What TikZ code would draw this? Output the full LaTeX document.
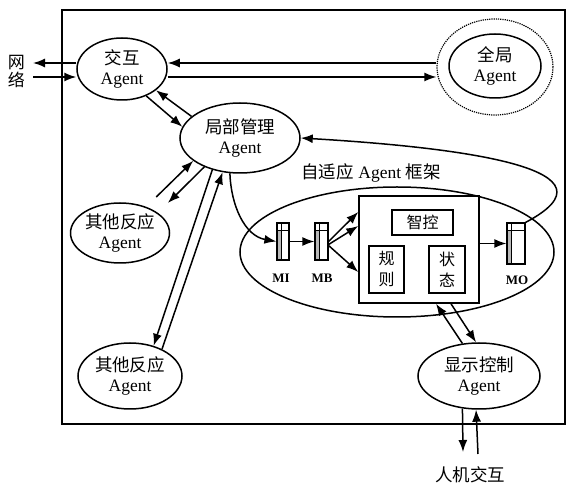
\documentclass[tikz,border=0pt]{standalone}
\usepackage{fontspec}
\setmainfont{Liberation Serif}
\newfontfamily\cjk{Noto Sans CJK SC}
\usetikzlibrary{arrows.meta, positioning, calc, shapes.geometric}
\newcommand{\agtext}[1]{{\cjk #1}\\Agent}

\begin{document}
\begin{tikzpicture}[x=1pt, y=-1pt, line width=1.5pt,
        agent/.style={ellipse, draw, align=center, inner sep=0pt, font=\fontsize{17.5}{20}\selectfont},
        arr/.style={-{Latex[length=12pt,width=9pt]}},
        smallbox/.style={draw, inner sep=0pt, align=center, font=\cjk\fontsize{16}{21}\selectfont},
        queue/.style={draw, line width=1.2pt, inner sep=0pt, minimum width=12pt, minimum height=37pt,
            path picture={
                \fill[gray!55] ([yshift=-7pt]path picture bounding box.north west) rectangle ([xshift=4pt]path picture bounding box.south west);
                \draw[line width=0.9pt] ([yshift=-7pt]path picture bounding box.north west) -- ([yshift=-7pt]path picture bounding box.north east);
                \draw[line width=0.9pt] ([xshift=4pt]path picture bounding box.north west) -- ([xshift=4pt]path picture bounding box.south west);
            }},
        qlabel/.style={font=\bfseries\fontsize{13}{15}\selectfont}]
    \useasboundingbox (0,0) rectangle (566,486);
    \draw (62,10) rectangle (565,424);

    % agents
    \node[agent, minimum width=90pt, minimum height=62pt] (jh) at (122,69) {\agtext{交互}};
    \node[agent, minimum width=92pt, minimum height=64pt] (qj) at (495,66) {\agtext{全局}};
    \node[ellipse, draw, densely dotted, line width=1.2pt, minimum width=116pt, minimum height=96pt] (qjo) at (495,67) {};
    \node[agent, minimum width=120pt, minimum height=70pt] (lj) at (240,138) {\agtext{局部管理}};
    \node[agent, minimum width=90pt, minimum height=60pt] (fy1) at (120,233) {\agtext{其他反应}};
    \node[agent, minimum width=104pt, minimum height=66pt] (fy2) at (130,376) {\agtext{其他反应}};
    \node[agent, minimum width=122pt, minimum height=66pt] (xs) at (479,376) {\agtext{显示控制}};

    % network and user
    \node[font=\cjk\fontsize{17}{18}\selectfont, align=center, inner sep=0pt] (wl) at (16.5,71.5) {网\\络};
    \coordinate (wa) at (33,63);
    \coordinate (wb) at (33,77);
    \node[font=\cjk\fontsize{17.5}{19}\selectfont, inner sep=0pt] (hj) at (470,475) {人机交互};
    \coordinate (hd) at (463,452);
    \coordinate (hu) at (478,454);

    % adaptive agent frame
    \node[ellipse, draw, minimum width=314pt, minimum height=130pt] (kj) at (397,252) {};
    \node[font=\fontsize{17.5}{20}\selectfont, inner sep=0pt] (kjl) at (371,173) {{\cjk 自适应} Agent {\cjk 框架}};
    \node[draw, minimum width=120pt, minimum height=107pt] (zk) at (419,249.5) {};
    \node[smallbox, minimum width=61pt, minimum height=25pt] (zhk) at (422.5,222.5) {智控};
    \node[smallbox, minimum width=35pt, minimum height=47pt] (gz) at (386.5,269.5) {规\\则};
    \node[smallbox, minimum width=36pt, minimum height=47pt] (zt) at (447,269.5) {状\\态};
    \node[queue] (mi) at (283,241.5) {};
    \node[queue, minimum width=13pt] (mb) at (321.5,241.5) {};
    \node[queue, minimum width=18pt, minimum height=41pt] (mo) at (516,243.5) {};
    \node[qlabel] at (281,278) {MI};
    \node[qlabel] at (322,278) {MB};
    \node[qlabel] at (517,280) {MO};

    % connectors
    \draw[arr] (jh.west |- wa) -- (wa);
    \draw[arr] (wb) -- (jh.west |- wb);
    \draw[arr] (qjo.west |- wa) -- (jh.east |- wa);
    \draw[arr] (jh.east |- wb) -- (qjo.west |- wb);
    \draw[arr] (jh.-48) -- (lj.169);
    \draw[arr] (lj.156) -- (jh.-32);
    \draw[arr, shorten <=14pt] (fy1.45) -- (lj.206);
    \draw[arr, shorten >=14pt] (lj.219) -- (fy1.28);
    \draw[arr] (lj.229) -- (fy2.52);
    \draw[arr] (fy2.40) -- (lj.-117);
    \draw[arr] (lj.-106) to[out=-88, in=170] (mi.west);
    \draw[arr] (mi.east) -- (mb.west);
    \foreach \s/\t in {0/37.5, -3/23.5, -4/-22.5}
        \draw[arr] ([yshift=\s pt]mb.east) -- ([yshift=\t pt]zk.west);
    \draw[arr] (zk.east |- mo.west) -- (mo.west);
    \draw[arr] (mo.north east) .. controls (625,170) and (470,148) .. (lj.east);
    \draw[arr] (xs.117) -- ([xshift=17pt]zk.south);
    \draw[arr] ([xshift=32pt]zk.south) -- (xs.95);
    \draw[arr] (xs.-117) -- (hd);
    \draw[arr] (hu) -- (xs.-95);
\end{tikzpicture}
\end{document}
